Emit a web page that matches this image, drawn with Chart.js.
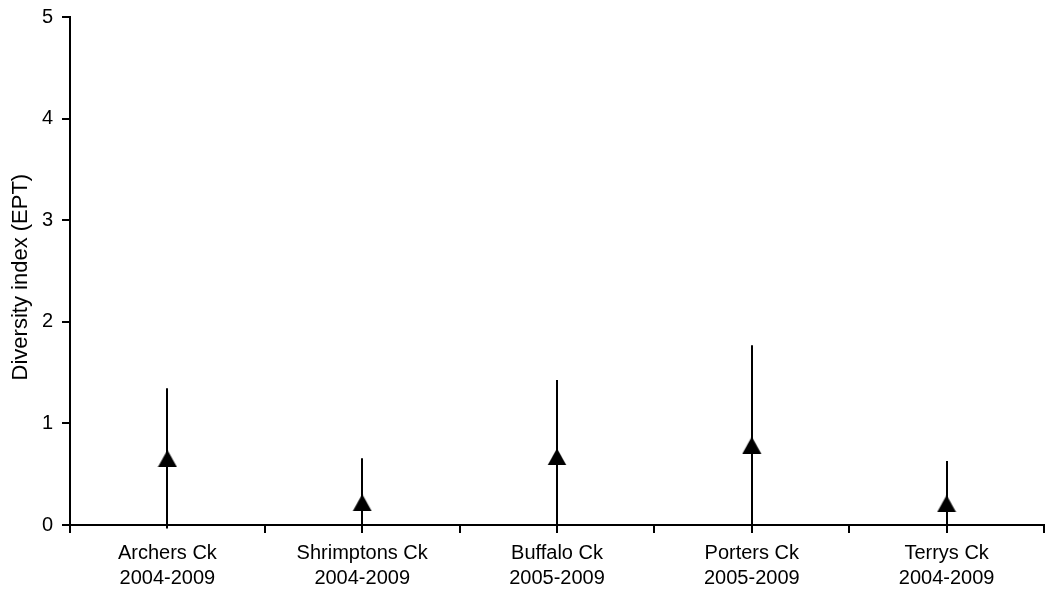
<!DOCTYPE html>
<html>
<head>
<meta charset="utf-8">
<script src="https://cdn.jsdelivr.net/npm/chart.js@4"></script>
<style>
  html, body { margin: 0; padding: 0; background: #fff; }
  #wrap { width: 1047px; height: 595px; }
</style>
</head>
<body>
<div id="wrap"><canvas id="chart"></canvas></div>
<script>
// categories and values
const sites = [
  ["Archers Ck", "2004-2009"],
  ["Shrimptons Ck", "2004-2009"],
  ["Buffalo Ck", "2005-2009"],
  ["Porters Ck", "2005-2009"],
  ["Terrys Ck", "2004-2009"]
];
const means = [0.655, 0.22, 0.67, 0.785, 0.21];
const upper = [1.345, 0.656, 1.427, 1.77, 0.63];
const yTicks = [0, 1, 2, 3, 4, 5];

const font = "Liberation Sans, Arial, sans-serif";

/* triangle marker, centred on its box like the excel one */
const tri = document.createElement("canvas");
tri.width = 20;
tri.height = 17;
const tctx = tri.getContext("2d");
tctx.fillStyle = "#000";
tctx.beginPath();
tctx.moveTo(10, 0);
tctx.lineTo(19.5, 17);
tctx.lineTo(0.5, 17);
tctx.closePath();
tctx.fill();

/* error bars: mean +/- distance, the lower end cut a bit below the axis */
const errorBars = {
  id: "errorBars",
  beforeDatasetsDraw(chart) {
    const ctx = chart.ctx;
    const x = chart.scales.x;
    const y = chart.scales.y;
    const floor = chart.chartArea.bottom + 8;
    ctx.save();
    ctx.strokeStyle = "#000";
    ctx.lineWidth = 2;
    means.forEach((m, i) => {
      const lo = m - (upper[i] - m);
      const px = Math.round(x.getPixelForValue(i));
      ctx.beginPath();
      ctx.moveTo(px, y.getPixelForValue(upper[i]));
      ctx.lineTo(px, Math.min(y.getPixelForValue(lo), floor));
      ctx.stroke();
    });
    ctx.restore();
  }
};

new Chart(document.getElementById("chart"), {
  type: "line",
  data: {
    labels: sites,
    datasets: [
      {
        data: means,
        showLine: false,
        pointStyle: tri,
        pointRadius: 10,
        pointBackgroundColor: "#000",
        pointBorderColor: "#000"
      }
    ]
  },
  options: {
    responsive: true,
    maintainAspectRatio: false,
    animation: false,
    layout: { autoPadding: false, padding: { top: 17, right: 3, left: 6, bottom: 0 } },
    plugins: { legend: { display: false }, tooltip: { enabled: false } },
    scales: {
      x: {
        offset: true,
        grid: { offset: true, drawOnChartArea: false, color: "#000", tickLength: 8, lineWidth: 2 },
        border: { color: "#000", width: 2 },
        ticks: {
          color: "#000",
          font: { family: font, size: 20, lineHeight: 1.25 },
          padding: 8,
          maxRotation: 0
        },
        afterFit(scale) {
          scale.height = 70;
          scale.paddingLeft = 0;
          scale.paddingRight = 0;
        }
      },
      y: {
        min: 0,
        max: 5,
        afterBuildTicks(scale) { scale.ticks = yTicks.map((v) => ({ value: v })); },
        grid: { drawOnChartArea: false, color: "#000", tickLength: 8, lineWidth: 2 },
        border: { color: "#000", width: 2 },
        ticks: { color: "#000", font: { family: font, size: 20 }, padding: 9 },
        title: {
          display: true,
          text: "Diversity index (EPT)  ",
          color: "#000",
          font: { family: font, size: 22 },
          padding: { top: 2, bottom: 0 }
        },
        afterFit(scale) {
          scale.width = 64;
          scale.paddingTop = 0;
          scale.paddingBottom = 0;
        }
      }
    }
  },
  plugins: [errorBars]
});
</script>
</body>
</html>
